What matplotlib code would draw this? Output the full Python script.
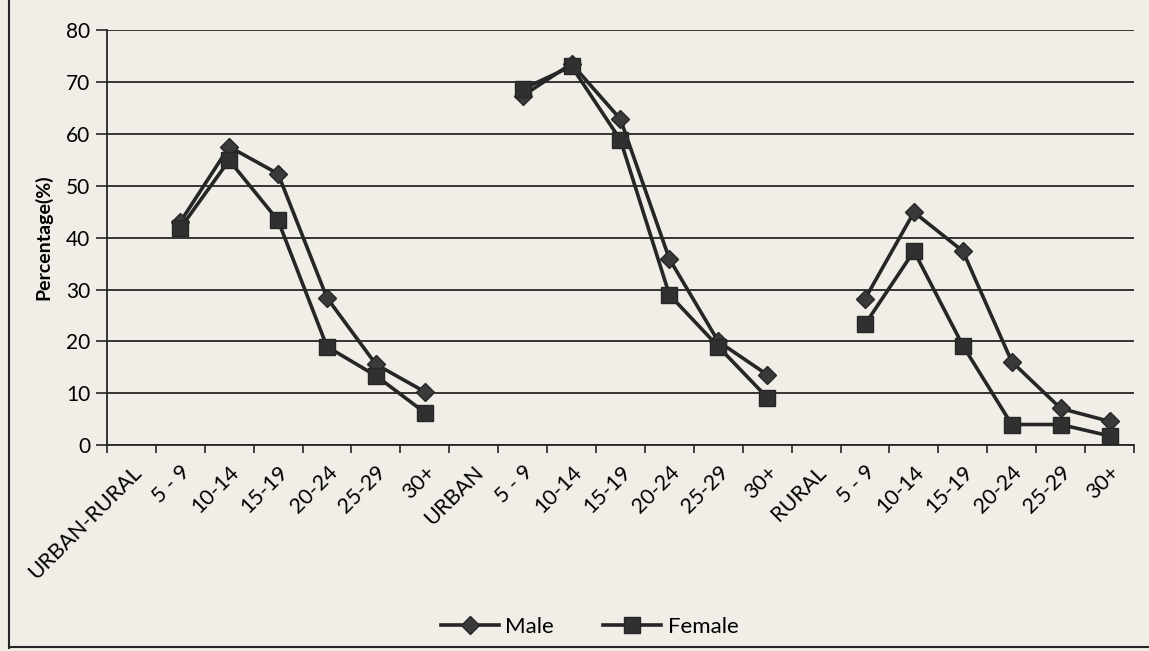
import numpy as np
import matplotlib
matplotlib.use("Agg")
import matplotlib.pyplot as plt
from matplotlib.lines import Line2D

plt.rcParams['font.family'] = ['Lato', 'DejaVu Sans']

# categories along the x axis (group headers have no data)
categories = ["URBAN-RURAL", "5 - 9", "10-14", "15-19", "20-24", "25-29", "30+",
              "URBAN", "5 - 9", "10-14", "15-19", "20-24", "25-29", "30+",
              "RURAL", "5 - 9", "10-14", "15-19", "20-24", "25-29", "30+"]

nan = np.nan
male = [nan, 43.0, 57.5, 52.3, 28.4, 15.6, 10.3,
        nan, 67.3, 73.5, 62.8, 35.9, 20.0, 13.6,
        nan, 28.2, 44.9, 37.4, 16.1, 7.1, 4.6]
female = [nan, 41.8, 54.9, 43.3, 19.0, 13.4, 6.3,
          nan, 68.6, 73.0, 58.8, 29.0, 19.0, 9.2,
          nan, 23.3, 37.4, 19.2, 4.0, 4.0, 1.8]

yticks = [0, 10, 20, 30, 40, 50, 60, 70, 80]

bg = "#f1eee7"
ink = "#262626"

fig = plt.figure(figsize=(11.49, 6.51), dpi=100, facecolor=bg)
ax = fig.add_axes([0.093, 0.316, 0.894, 0.638], facecolor=bg)

x = np.arange(len(categories))
ax.plot(x, male, color=ink, lw=2.6, marker="D", ms=9, mfc="#3a3a3a",
        mec=ink, label="Male")
ax.plot(x, female, color=ink, lw=2.6, marker="s", ms=12, mfc="#303030",
        mec=ink, label="Female")

ax.set_xlim(-0.5, len(categories) - 0.5)
ax.set_ylim(0, 80)
ax.set_yticks(yticks)
ax.tick_params(axis="y", labelsize=15, length=8, width=1.2, color=ink, pad=4)
ax.yaxis.grid(True, color=ink, lw=1.3)
ax.set_axisbelow(True)

ax.set_xticks(x)
ax.set_xticklabels(categories, rotation=45, ha="right", rotation_mode="anchor",
                   fontsize=15.5)
ax.tick_params(axis="x", which="major", length=0, pad=12)
ax.set_xticks(np.arange(-0.5, len(categories), 1.0), minor=True)
ax.tick_params(axis="x", which="minor", length=6, width=1.2, color=ink)

for s in ["top", "right"]:
    ax.spines[s].set_visible(False)
for s in ["left", "bottom"]:
    ax.spines[s].set_color(ink)
    ax.spines[s].set_linewidth(1.3)

ax.set_ylabel("Percentage(%)", fontsize=14, fontweight="bold", labelpad=10)

ax.legend(loc="upper center", bbox_to_anchor=(0.47, -0.365), ncol=2,
          frameon=False, fontsize=16, handlelength=2.6, columnspacing=2.2,
          handletextpad=0.3)

# chart border remnants (left and bottom of scanned frame)
fig.add_artist(Line2D([0.008, 0.008], [0.005, 1.0], color=ink, lw=1.5))
fig.add_artist(Line2D([0.008, 1.0], [0.006, 0.006], color=ink, lw=1.5))

fig.savefig("out.png", dpi=100, facecolor=bg)
